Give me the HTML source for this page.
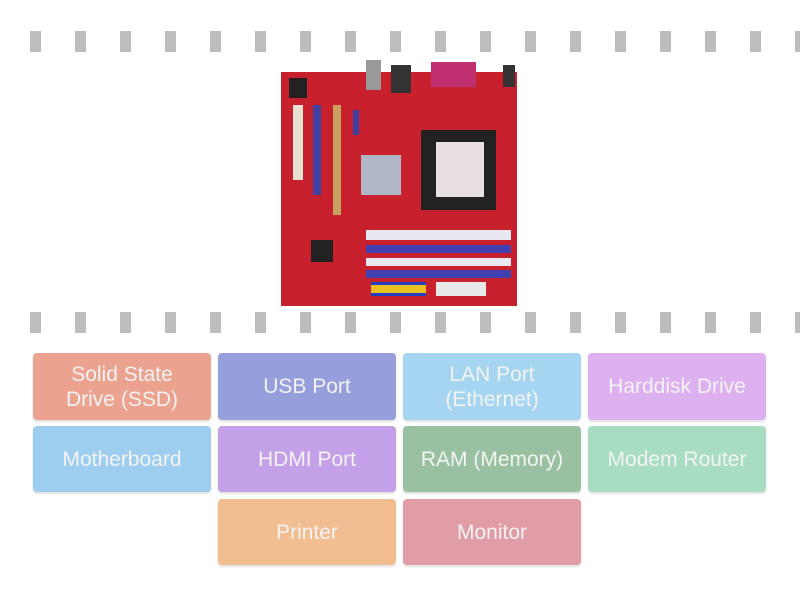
<!DOCTYPE html>
<html><head><style>
body{margin:0;width:800px;height:600px;background:#fff;position:relative;overflow:hidden;font-family:"Liberation Sans",sans-serif}
.d{position:absolute;width:11px;height:21px;background:#bdbdbd}
.b{position:absolute;width:178px;border-radius:4px;color:#f3f3f3;font-size:21px;display:flex;align-items:center;justify-content:center;text-align:center;line-height:25px;box-shadow:0 2px 2px rgba(0,0,0,.12)}
</style></head><body>
<div id="dashes"></div>
<script>
var h='';for(var i=0;i<18;i++){var x=30+i*45;h+='<div class="d" style="left:'+x+'px;top:31px"></div><div class="d" style="left:'+x+'px;top:312px"></div>';}
document.getElementById('dashes').innerHTML=h;
</script>
<svg style="position:absolute;left:281px;top:60px" width="237" height="248">
<rect x="0" y="12" width="236" height="234" fill="#c8202c"/>
<rect x="8" y="18" width="18" height="20" fill="#222"/>
<rect x="12" y="45" width="10" height="75" fill="#e8e0d0"/>
<rect x="32" y="45" width="8" height="90" fill="#4040a0"/>
<rect x="52" y="45" width="8" height="110" fill="#c8a060"/>
<rect x="72" y="50" width="6" height="25" fill="#4040a0"/>
<rect x="80" y="95" width="40" height="40" fill="#b0b8c8"/>
<rect x="85" y="0" width="15" height="30" fill="#999"/>
<rect x="110" y="5" width="20" height="28" fill="#333"/>
<rect x="150" y="2" width="45" height="25" fill="#c03070"/>
<rect x="222" y="5" width="12" height="22" fill="#333"/>
<rect x="140" y="70" width="75" height="80" fill="#222"/>
<rect x="155" y="82" width="48" height="55" fill="#e8e0e0"/>
<rect x="85" y="170" width="145" height="10" fill="#e8e8f0"/>
<rect x="85" y="185" width="145" height="8" fill="#4040b0"/>
<rect x="85" y="198" width="145" height="8" fill="#e8e8f0"/>
<rect x="85" y="210" width="145" height="8" fill="#4040b0"/>
<rect x="30" y="180" width="22" height="22" fill="#222"/>
<rect x="90" y="222" width="55" height="14" fill="#2040c0"/>
<rect x="90" y="225" width="55" height="8" fill="#e8c020"/>
<rect x="155" y="222" width="50" height="14" fill="#e8e8e8"/>
</svg>
<div class="b" style="left:33px;top:353px;height:67px;background:#eba28f">Solid State<br>Drive (SSD)</div>
<div class="b" style="left:218px;top:353px;height:67px;background:#969edc">USB Port</div>
<div class="b" style="left:403px;top:353px;height:67px;background:#a5d5f1">LAN Port<br>(Ethernet)</div>
<div class="b" style="left:588px;top:353px;height:67px;background:#ddb1f0">Harddisk Drive</div>
<div class="b" style="left:33px;top:426px;height:66px;background:#9dcdef">Motherboard</div>
<div class="b" style="left:218px;top:426px;height:66px;background:#c4a0e9">HDMI Port</div>
<div class="b" style="left:403px;top:426px;height:66px;background:#99c1a1">RAM (Memory)</div>
<div class="b" style="left:588px;top:426px;height:66px;background:#a9ddc1">Modem Router</div>
<div class="b" style="left:218px;top:499px;height:66px;background:#f1bd91">Printer</div>
<div class="b" style="left:403px;top:499px;height:66px;background:#e09da5">Monitor</div>
</body></html>
